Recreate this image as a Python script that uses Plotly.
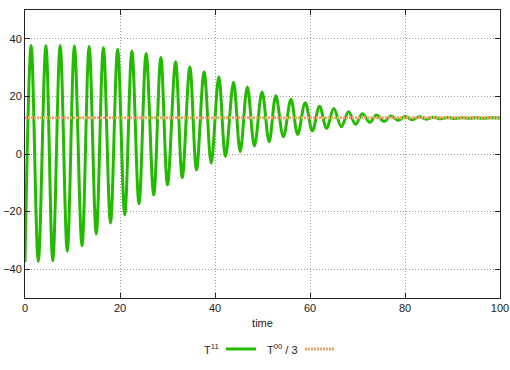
import plotly.graph_objects as go

# T^11 extrema (time, value)
t11_time = [0.0, 1.3, 2.8, 4.4, 5.85, 7.4, 8.9, 10.4, 12.0, 13.5, 15.0, 16.5, 18.0, 19.5,
            21.0, 22.5, 24.0, 25.5, 27.1, 28.6, 30.0, 31.7, 33.1, 34.7, 36.1, 37.7, 39.2,
            40.8, 42.2, 43.9, 45.3, 46.8, 48.3, 49.9, 51.4, 52.8, 54.4, 56.0, 57.4, 59.0,
            60.5, 62.0, 63.5, 65.0, 66.6, 68.1, 69.6, 71.0, 72.6, 74.0, 75.6, 77.0, 78.6,
            80.0, 81.5, 83.0, 84.5, 86.0, 87.5, 89.0, 90.5, 92.0, 93.5, 95.0, 96.5, 98.0, 100.0]
t11_value = [-37.5, 37.7, -37.3, 37.7, -37.1, 37.7, -33.8, 37.5, -31.9, 37.3, -27.8, 36.9,
             -24.0, 36.4, -21.1, 35.8, -17.3, 34.9, -14.2, 33.5, -10.7, 32.0, -8.2, 30.2,
             -5.5, 28.5, -3.2, 26.8, -0.9, 24.9, 0.8, 23.3, 2.8, 21.5, 4.3, 20.2, 6.0, 19.0,
             6.8, 17.8, 8.0, 16.6, 8.9, 15.8, 9.5, 14.7, 10.3, 14.0, 11.0, 13.5, 11.3, 13.2,
             11.7, 13.0, 11.9, 12.9, 12.1, 12.8, 12.2, 12.7, 12.3, 12.6, 12.4, 12.6, 12.4,
             12.6, 12.5]

# T^00 / 3 (constant)
t00_time = [0.0, 100.0]
t00_value = [12.6, 12.6]

x_ticks = [0, 20, 40, 60, 80, 100]
y_ticks = [-40, -20, 0, 20, 40]

green = "#22bb00"
orange = "#f5a468"

fig = go.Figure()
fig.add_trace(go.Scatter(x=t11_time, y=t11_value, mode="lines",
                         line=dict(color=green, width=3, shape="spline", smoothing=1.0),
                         showlegend=False))
fig.add_trace(go.Scatter(x=t00_time, y=t00_value, mode="lines",
                         line=dict(color=orange, width=3, dash="2px,1px"),
                         showlegend=False))

axis_common = dict(showline=True, linecolor="#222", linewidth=1, mirror="ticks",
                   ticks="inside", ticklen=5, tickcolor="#222", automargin=False,
                   showgrid=True, gridcolor="#a0a0a0", griddash="1px,2px", gridwidth=1,
                   zeroline=False, tickfont=dict(family="Liberation Sans", size=11, color="#222"))

fig.update_xaxes(range=[0, 100], tickvals=x_ticks,
                 title=dict(text="time", font=dict(family="Liberation Sans", size=11, color="#222"),
                            standoff=6),
                 **axis_common)
fig.update_yaxes(range=[-50, 50], tickvals=y_ticks, **axis_common)

# custom gnuplot-style key: text then sample
ky = -0.177
fig.add_annotation(x=(221 - 25) / 475, y=ky, xref="paper", yref="paper", xanchor="right",
                   yanchor="middle", text="T<sup>11</sup>", showarrow=False,
                   font=dict(family="Liberation Sans", size=11, color="#222"))
fig.add_shape(type="line", xref="paper", yref="paper", x0=(226 - 25) / 475, x1=(256 - 25) / 475,
              y0=ky, y1=ky, line=dict(color=green, width=3))
fig.add_annotation(x=(300 - 25) / 475, y=ky, xref="paper", yref="paper", xanchor="right",
                   yanchor="middle", text="T<sup>00</sup> / 3", showarrow=False,
                   font=dict(family="Liberation Sans", size=11, color="#222"))
fig.add_shape(type="line", xref="paper", yref="paper", x0=(305 - 25) / 475, x1=(335 - 25) / 475,
              y0=ky, y1=ky, line=dict(color=orange, width=3, dash="2px,1px"))

fig.update_layout(width=510, height=370, margin=dict(l=25, r=10, t=10, b=72),
                  plot_bgcolor="white", paper_bgcolor="white",
                  font=dict(family="Liberation Sans", size=11, color="#222"))

fig.write_html("out.html")
